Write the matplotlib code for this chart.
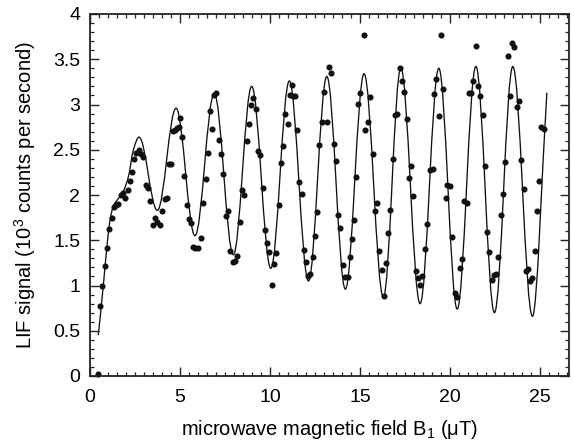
import numpy as np
import matplotlib
matplotlib.use("Agg")
import matplotlib.pyplot as plt
from matplotlib.path import Path
from matplotlib.patches import PathPatch
from matplotlib.ticker import MultipleLocator, FixedLocator

plt.rcParams['font.family'] = ['Liberation Sans', 'DejaVu Sans']
plt.rcParams['mathtext.fontset'] = 'custom'
plt.rcParams['mathtext.rm'] = 'Liberation Sans'

# measured LIF signal (10^3 counts/s) vs B1 (uT)
b_meas = [0.43, 0.56, 0.69, 0.81, 0.94, 1.07, 1.20, 1.31, 1.43, 1.56, 1.70, 1.85, 1.96, 2.09, 2.20,
          2.33, 2.44, 2.57, 2.70, 2.81, 2.93, 3.09, 3.22, 3.33, 3.48, 3.63, 3.74, 3.89, 4.00, 4.15,
          4.28, 4.39, 4.50, 4.63, 4.74, 4.85, 4.94, 5.00, 5.13, 5.24, 5.37, 5.50, 5.63, 5.74, 5.85,
          6.00, 6.15, 6.30, 6.44, 6.56, 6.65, 6.78, 6.87, 7.02, 7.17, 7.30, 7.41, 7.54, 7.65, 7.78,
          7.93, 8.04, 8.19, 8.33, 8.44, 8.57, 8.70, 8.81, 8.94, 9.07, 9.20, 9.33, 9.46, 9.59, 9.70,
          9.83, 9.94, 10.09, 10.20, 10.35, 10.48, 10.59, 10.74, 10.85, 10.98, 11.11, 11.22, 11.28,
          11.41, 11.50, 11.63, 11.76, 11.87, 12.00, 12.11, 12.24, 12.37, 12.52, 12.63, 12.74, 12.87,
          13.02, 13.15, 13.28, 13.39, 13.54, 13.65, 13.78, 13.91, 14.04, 14.15, 14.31, 14.43, 14.56,
          14.67, 14.78, 14.89, 15.02, 15.19, 15.28, 15.43, 15.57, 15.70, 15.83, 15.94, 16.06, 16.19,
          16.31, 16.44, 16.56, 16.67, 16.81, 16.93, 17.07, 17.20, 17.31, 17.44, 17.59, 17.72, 17.85,
          17.96, 18.11, 18.22, 18.33, 18.46, 18.59, 18.72, 18.87, 19.02, 19.11, 19.22, 19.37, 19.48,
          19.63, 19.76, 19.85, 20.00, 20.13, 20.26, 20.39, 20.52, 20.65, 20.76, 20.91, 21.04, 21.15,
          21.28, 21.41, 21.52, 21.65, 21.80, 21.93, 22.04, 22.17, 22.30, 22.43, 22.56, 22.67, 22.80,
          22.93, 23.06, 23.19, 23.31, 23.41, 23.56, 23.69, 23.83, 23.96, 24.09, 24.20, 24.33, 24.46,
          24.57, 24.69, 24.81, 24.94, 25.07, 25.19]
lif_meas = [0.02, 0.77, 0.99, 1.21, 1.41, 1.62, 1.75, 1.87, 1.89, 1.90, 2.00, 2.02, 1.97, 2.06, 2.15,
            2.25, 2.40, 2.46, 2.50, 2.45, 2.42, 2.11, 2.08, 1.93, 1.67, 1.75, 1.70, 1.67, 1.82, 1.96,
            1.97, 2.34, 2.34, 2.71, 2.72, 2.74, 2.75, 2.85, 2.64, 2.21, 1.89, 1.74, 1.69, 1.43, 1.41,
            1.41, 1.53, 1.91, 2.18, 2.46, 2.93, 2.73, 3.11, 3.13, 2.61, 2.45, 2.23, 1.77, 1.82, 1.38,
            1.26, 1.27, 1.33, 1.70, 2.05, 2.00, 2.60, 2.78, 3.00, 3.07, 2.95, 2.49, 2.44, 2.08, 1.61,
            1.47, 1.37, 1.01, 1.24, 1.36, 1.89, 2.35, 2.54, 2.90, 2.78, 3.10, 3.21, 3.09,
            3.09, 2.72, 2.14, 2.01, 1.39, 1.26, 1.11, 1.13, 1.31, 1.55, 1.81, 2.55, 2.81,
            3.14, 2.81, 3.41, 3.35, 2.56, 2.38, 1.78, 1.64, 1.23, 1.09, 1.09, 1.31, 1.51,
            1.72, 2.20, 3.01, 3.13, 3.77, 2.72, 2.81, 3.08, 2.45, 1.82, 1.91, 1.38, 1.17,
            0.88, 1.25, 1.58, 1.83, 2.40, 2.88, 2.90, 3.40, 3.26, 3.14, 2.84, 2.19, 2.32,
            1.99, 1.16, 1.08, 1.01, 1.11, 1.40, 1.68, 2.28, 2.29, 3.12, 3.28, 2.87, 3.77,
            3.17, 1.97, 2.11, 2.10, 1.54, 0.92, 0.87, 1.19, 1.29, 1.93, 1.91, 3.13, 3.13,
            3.26, 3.65, 3.20, 3.09, 2.88, 2.32, 1.59, 1.37, 1.06, 1.12, 1.13, 1.31, 1.78,
            2.01, 2.36, 3.54, 3.09, 3.68, 3.63, 2.97, 3.04, 2.39, 2.07, 1.16, 1.18, 1.05,
            1.08, 1.38, 1.82, 2.16, 2.75, 2.73]

# fitted curve: key points (start, shoulder, extrema, end)
b_fit = [0.46, 0.74, 0.93, 1.11, 1.30, 1.57, 1.85, 2.13, 2.41, 2.72, 3.74, 4.78, 5.83, 6.90, 7.96,
         8.98, 10.04, 11.07, 12.13, 13.15, 14.18, 15.22, 16.29, 17.26, 18.33, 19.37, 20.39,
         21.43, 22.46, 23.48, 24.57, 25.37]
lif_fit = [0.45, 1.00, 1.41, 1.72, 1.88, 1.96, 2.04, 2.20, 2.50, 2.64, 1.83, 2.96, 1.55, 3.12, 1.34,
           3.20, 1.19, 3.26, 1.05, 3.31, 0.96, 3.34, 0.87, 3.40, 0.80, 3.40, 0.74,
           3.42, 0.70, 3.42, 0.66, 3.13]

x_ticks = [0, 5, 10, 15, 20, 25]
y_ticks = [0, 0.5, 1, 1.5, 2, 2.5, 3, 3.5, 4]
y_ticklabels = ['0', '0.5', '1', '1.5', '2', '2.5', '3', '3.5', '4']


def hermite_slopes(x, y):
    x = np.asarray(x, float); y = np.asarray(y, float)
    h = np.diff(x); d = np.diff(y) / h
    m = np.zeros_like(y)
    for i in range(1, len(x) - 1):
        if d[i - 1] * d[i] > 0:
            w1 = 2 * h[i] + h[i - 1]; w2 = h[i] + 2 * h[i - 1]
            m[i] = (w1 + w2) / (w1 / d[i - 1] + w2 / d[i])
    m[0] = d[0]
    m[-1] = d[-1]
    return m


def smooth_path(x, y):
    m = hermite_slopes(x, y)
    verts = [(x[0], y[0])]
    codes = [Path.MOVETO]
    for i in range(len(x) - 1):
        h = x[i + 1] - x[i]
        k = 0.364 if (m[i] == 0 and m[i + 1] == 0) else 1 / 3
        verts += [(x[i] + k * h, y[i] + m[i] * k * h),
                  (x[i + 1] - k * h, y[i + 1] - m[i + 1] * k * h),
                  (x[i + 1], y[i + 1])]
        codes += [Path.CURVE4] * 3
    return Path(verts, codes)


fig = plt.figure(figsize=(5.74, 4.45), dpi=100)
ax = fig.add_axes([90 / 574, 1 - 376 / 445, 479 / 574, 362 / 445])

ax.add_patch(PathPatch(smooth_path(b_fit, lif_fit), fill=False, edgecolor='#111111',
                       linewidth=0.95, transform=ax.transData))
ax.plot(b_meas, lif_meas, 'o', color='#111111', markersize=4.4, markeredgewidth=0, clip_on=False)

ax.set_xlim(0, 26.6)
ax.set_ylim(0, 4)
ax.xaxis.set_major_locator(FixedLocator(x_ticks))
ax.xaxis.set_minor_locator(MultipleLocator(0.5))
ax.yaxis.set_major_locator(FixedLocator(y_ticks))
ax.set_yticklabels(y_ticklabels)
ax.yaxis.set_minor_locator(MultipleLocator(0.1))

ax.tick_params(which='both', direction='in', top=True, right=True, color='#222222')
ax.tick_params(which='major', length=6.5, width=1.0, labelsize=14, pad=7)
ax.tick_params(which='minor', length=3.2, width=0.9)
ax.tick_params(axis='x', which='major', pad=9)
for s in ax.spines.values():
    s.set_linewidth(1.3)
    s.set_color('#222222')

ax.set_xlabel(r'microwave magnetic field B$_{\mathregular{1}}$ (μT)', fontsize=14.5)
ax.set_ylabel(r'LIF signal (10$^{\mathregular{3}}$ counts per second)', fontsize=14.5)
ax.yaxis.set_label_coords(-0.108, 0.5)
ax.xaxis.set_label_coords(0.5, -0.115)

fig.savefig('out.png', dpi=100)
